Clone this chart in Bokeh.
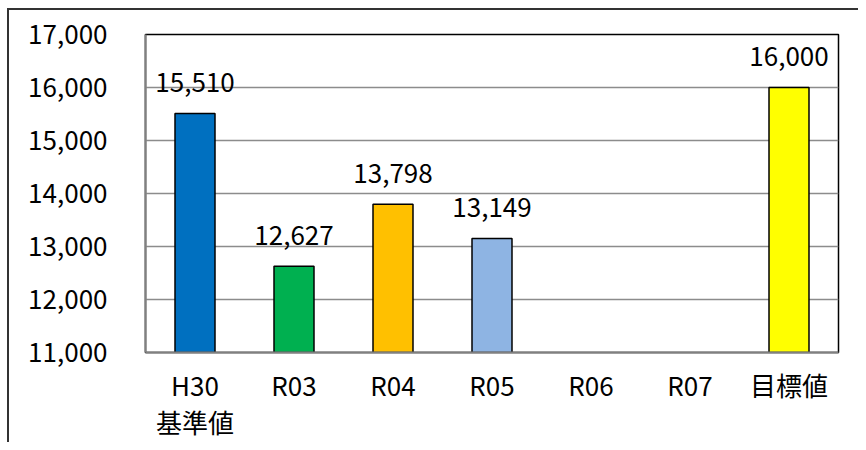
from bokeh.plotting import figure
from bokeh.models import ColumnDataSource, FixedTicker, NumeralTickFormatter, Range1d
from bokeh.core.properties import value
from bokeh.embed import file_html
from bokeh.resources import INLINE

categories = ["H30\n基準値", "R03", "R04", "R05", "R06", "R07", "目標値"]
values = [15510, 12627, 13798, 13149, None, None, 16000]
colors = ["#0070C0", "#00B050", "#FFC000", "#8EB4E3", "#FFFFFF", "#FFFFFF", "#FFFF00"]
y_ticks = [11000, 12000, 13000, 14000, 15000, 16000, 17000]

Y_MIN, Y_MAX = 11000, 17000
FONT = "Noto Sans CJK JP"

cats = [c for c, v in zip(categories, values) if v is not None]
vals = [v for v in values if v is not None]
cols = [c for c, v in zip(colors, values) if v is not None]
labels = [f"{v:,}" for v in vals]

src = ColumnDataSource(dict(x=cats, top=vals, color=cols, label=labels))

p = figure(x_range=categories, y_range=Range1d(Y_MIN, Y_MAX),
           width=858, height=442, output_backend="svg", toolbar_location=None,
           min_border_left=145, min_border_right=20, min_border_top=34, min_border_bottom=90)

p.vbar(x="x", top="top", bottom=Y_MIN, width=0.404, source=src,
       fill_color="color", line_color="black", line_width=1.5)

p.text(x="x", y="top", text="label", source=src, text_align="center",
       text_baseline="alphabetic", y_offset=-31, text_font=value(FONT),
       text_font_size="26px", text_color="black")

p.outline_line_color = "black"
p.outline_line_width = 1.5
p.background_fill_color = "white"
# transparent border area so that the CSS-drawn outer chart border shows through
p.border_fill_color = None
p.styles = {
    "background-color": "white",
    "background-image": "linear-gradient(#333333, #333333), linear-gradient(#333333, #333333)",
    "background-size": "2px 100%, 100% 2px",
    "background-position": "7px 8px, 7px 8px",
    "background-repeat": "no-repeat",
}

p.xgrid.grid_line_color = None
p.ygrid.grid_line_color = "#8C8C8C"
p.ygrid.grid_line_width = 1.5
p.yaxis.ticker = FixedTicker(ticks=y_ticks)
p.yaxis.formatter = NumeralTickFormatter(format="0,0")

for ax in (p.xaxis[0], p.yaxis[0]):
    ax.axis_line_color = "#808080"
    ax.axis_line_width = 2
    ax.major_tick_line_color = None
    ax.minor_tick_line_color = None
    ax.major_tick_out = 0
    ax.major_tick_in = 0
    ax.minor_tick_out = 0
    ax.major_label_text_font = FONT
    ax.major_label_text_font_size = "26px"
    ax.major_label_text_color = "black"

p.yaxis.major_label_standoff = 38
p.xaxis.major_label_standoff = 13
p.xaxis.major_label_text_line_height = 1.0

open("out.html", "w").write(file_html(p, INLINE))
